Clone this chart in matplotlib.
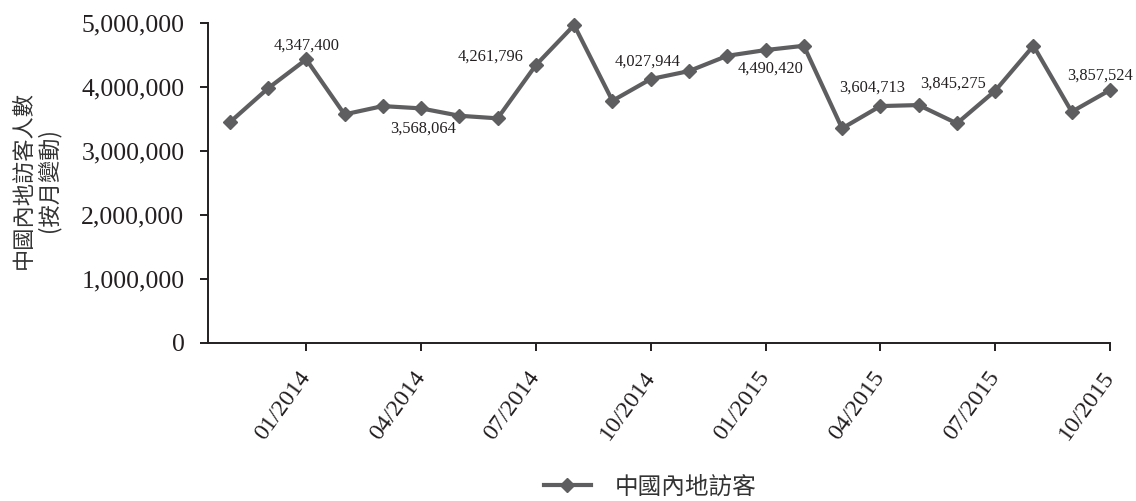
import numpy as np
import matplotlib
matplotlib.use("Agg")
import matplotlib.pyplot as plt

# Months 11/2013 .. 10/2015 (one point per month)
months = ["11/2013", "12/2013", "01/2014", "02/2014", "03/2014", "04/2014",
          "05/2014", "06/2014", "07/2014", "08/2014", "09/2014", "10/2014",
          "11/2014", "12/2014", "01/2015", "02/2015", "03/2015", "04/2015",
          "05/2015", "06/2015", "07/2015", "08/2015", "09/2015", "10/2015"]
# visitor counts as plotted
visitors = [3449000, 3981000, 4435000, 3574000, 3704000, 3668000,
            3553000, 3512000, 4346000, 4972000, 3787000, 4127000,
            4252000, 4491000, 4581000, 4648000, 3355000, 3704000,
            3720000, 3433000, 3944000, 4648000, 3615000, 3955000]

# data labels shown on the chart
label_idx = [2, 5, 8, 11, 14, 17, 20, 23]
label_txt = ["4,347,400", "3,568,064", "4,261,796", "4,027,944",
             "4,490,420", "3,604,713", "3,845,275", "3,857,524"]
label_off = [(0, 14), (2, -20), (-45, 8), (-3, 17),
             (5, -19), (-8, 18), (-42, 7), (-10, 14)]

tick_idx = [2, 5, 8, 11, 14, 17, 20, 23]
y_ticks = [0, 1000000, 2000000, 3000000, 4000000, 5000000]

series_name = "中國內地訪客"
y_title = "中國內地訪客人數\n(按月變動)"

serif = "Liberation Serif"
cjk = ["Noto Sans CJK TC", "DejaVu Sans"]
ink = "#231f20"
line_c = "#5e5e61"

fig = plt.figure(figsize=(11.36, 5.01), dpi=100)
ax = fig.add_axes([208 / 1136, 1 - 342.7 / 501, (1110 - 208) / 1136, (342.7 - 23.3) / 501])

x = np.arange(len(months))
ax.plot(x, visitors, color=line_c, lw=3.0, marker="D", ms=7,
        mfc=line_c, mec=line_c, label=series_name, clip_on=False, zorder=3)

for i, t, off in zip(label_idx, label_txt, label_off):
    ax.annotate(t, (x[i], visitors[i]), xytext=off, textcoords="offset pixels",
                ha="center", va="center", fontsize=11.8, family=serif, color=ink)

ax.set_xlim(-0.567, 23)
ax.set_ylim(0, 5000000)
ax.set_yticks(y_ticks)
ax.set_yticklabels([f"{v:,}" for v in y_ticks], fontsize=18.5, family=serif, color=ink)
ax.set_xticks(x[tick_idx])
ax.set_xticklabels([months[i] for i in tick_idx], fontsize=17.5, family=serif,
                   color=ink, rotation=54, ha="right", va="center",
                   rotation_mode="anchor")

for s in ["top", "right"]:
    ax.spines[s].set_visible(False)
for s in ["left", "bottom"]:
    ax.spines[s].set_linewidth(1.4)
    ax.spines[s].set_color(ink)
ax.tick_params(axis="both", direction="out", length=6, width=1.4, color=ink)
ax.tick_params(axis="y", pad=11)
ax.tick_params(axis="x", pad=16)

fig.text(36 / 1136, 1 - 180 / 501, y_title, rotation=90, ha="center", va="center",
         multialignment="center", fontsize=16, family=cjk, color="#333333",
         linespacing=1.15)

leg = fig.legend(loc="center", bbox_to_anchor=(650 / 1136, 1 - 487 / 501),
                 frameon=False, prop={"family": cjk, "size": 17},
                 handlelength=2.0, handletextpad=1.0, borderpad=0.2)
for t in leg.get_texts():
    t.set_color("#333333")

fig.savefig("out.png", dpi=100)
